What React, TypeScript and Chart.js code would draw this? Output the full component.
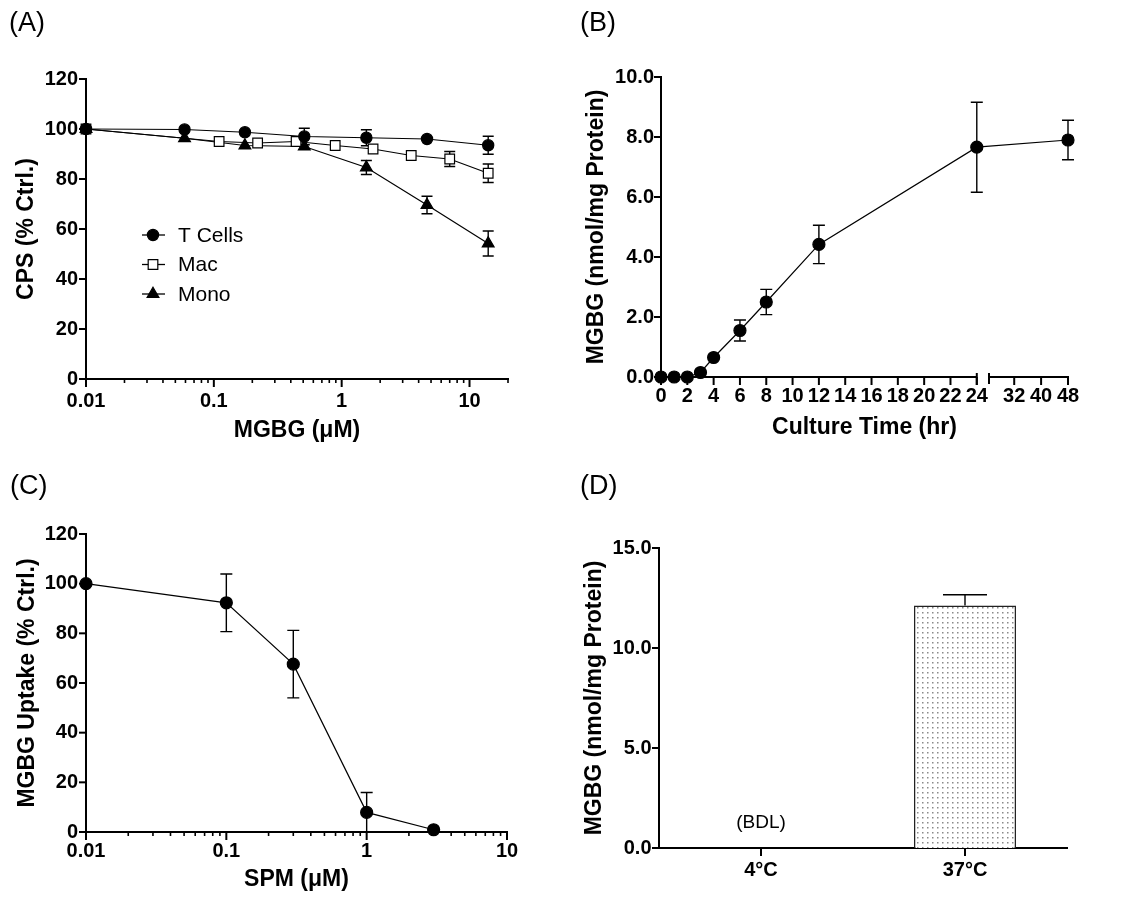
import React, { useEffect, useRef } from "react";
import { Chart, registerables } from "chart.js";
Chart.register(...registerables);

const FONT = "'Liberation Sans', Arial, Helvetica, sans-serif";
const INK = "#000";
const TICK_SIZE = 20;

// ---------- Panel A data ----------
const A_SERIES = ["T Cells", "Mac", "Mono"];
const A_TCELL_DOSE = [0.01, 0.059, 0.175, 0.51, 1.56, 4.65, 14];
const A_TCELL_CPS = [100, 99.8, 98.7, 97, 96.5, 96, 93.5];
const A_TCELL_ERR = [0, 0, 0, 3.3, 3.2, 0, 3.6];
const A_MAC_DOSE = [0.01, 0.11, 0.22, 0.44, 0.89, 1.76, 3.5, 7, 14];
const A_MAC_CPS = [100, 95, 94.4, 95, 93.4, 92, 89.4, 88, 82.3];
const A_MAC_ERR = [0, 0, 0, 0, 0, 0, 0, 3, 3.7];
const A_MONO_DOSE = [0.01, 0.059, 0.175, 0.51, 1.56, 4.65, 14];
const A_MONO_CPS = [100, 96.3, 93.4, 93, 84.6, 69.6, 54.2];
const A_MONO_ERR = [0, 0, 0, 0, 2.8, 3.5, 5];
const A_X_TICKS = [0.01, 0.1, 1, 10];
const A_X_MAX = 20;
const A_Y_TICKS = [0, 20, 40, 60, 80, 100, 120];

// ---------- Panel B data ----------
const B_TIME = [0, 1, 2, 3, 4, 6, 8, 12, 24, 48];
const B_MGBG = [0, 0, 0, 0.15, 0.65, 1.55, 2.5, 4.42, 7.66, 7.9];
const B_SEM = [0, 0, 0, 0, 0, 0.35, 0.42, 0.64, 1.5, 0.66];
const B_X_TICKS = [0, 2, 4, 6, 8, 10, 12, 14, 16, 18, 20, 22, 24, 32, 40, 48];
const B_Y_TICKS = [0, 2, 4, 6, 8, 10];
// broken axis: hours after the break are compressed
const B_BREAK = 24;
const B_SEG2_ORIGIN = 24.8;
const B_SEG2_RATE = 0.2555;
const B_SEG2_FROM = 24.5;
const bx = (t: number) => (t <= B_BREAK ? t : B_SEG2_ORIGIN + (t - B_BREAK) * B_SEG2_RATE);

// ---------- Panel C data ----------
const C_SPM = [0.01, 0.1, 0.3, 1, 3];
const C_UPTAKE = [100, 92.3, 67.6, 7.9, 0.9];
const C_SEM = [0, 11.6, 13.6, 8, 0];
const C_X_TICKS = [0.01, 0.1, 1, 10];
const C_Y_TICKS = [0, 20, 40, 60, 80, 100, 120];

// ---------- Panel D data ----------
const D_TEMPS = ["4°C", "37°C"];
const D_MGBG: (number | null)[] = [null, 12.13];
const D_SEM = [0, 0.53];
const D_NOTES = ["(BDL)", ""];
const D_NOTE_Y = 1.27;
const D_Y_TICKS = [0, 5, 10, 15];

// ---------- helpers ----------
const common = {
  responsive: false,
  maintainAspectRatio: false,
  animation: false as const,
  events: [] as any[],
  plugins: { legend: { display: false }, tooltip: { enabled: false } },
};

function logTicks(majors: number[], max: number) {
  const out: { value: number; major: boolean }[] = [];
  majors.forEach((m) => {
    if (m <= max) out.push({ value: m, major: true });
    for (let k = 2; k <= 9; k++) {
      const v = m * k;
      if (v <= max * 1.0001) out.push({ value: v, major: false });
    }
  });
  return out.sort((a, b) => a.value - b.value);
}

function titleOpt(text: string, size: number, pad: any) {
  return { display: true, text, color: INK, font: { family: FONT, size, weight: "bold" as const }, padding: pad };
}

function yAxis(ticks: number[], title: string, width: number, labelPad: number, titlePad: number, fmt: (v: number) => string, size = TICK_SIZE) {
  return {
    type: "linear" as const,
    min: ticks[0],
    max: ticks[ticks.length - 1],
    afterBuildTicks: (s: any) => {
      s.ticks = ticks.map((v) => ({ value: v }));
    },
    ticks: { autoSkip: false, color: INK, padding: labelPad, font: { family: FONT, size, weight: "bold" as const }, callback: (v: any) => fmt(Number(v)) },
    grid: { display: false, drawTicks: false },
    border: { display: true, color: INK, width: 2 },
    title: titleOpt(title, 23, { top: titlePad, bottom: 0 }),
    afterFit: (s: any) => {
      s.width = width;
    },
  };
}

function logXAxis(majors: number[], max: number, title: string, height: number, labelPad: number, titlePad: number) {
  return {
    type: "logarithmic" as const,
    min: majors[0],
    max,
    afterBuildTicks: (s: any) => {
      s.ticks = logTicks(majors, max);
    },
    ticks: {
      autoSkip: false,
      maxRotation: 0,
      minRotation: 0,
      color: INK,
      padding: labelPad,
      font: { family: FONT, size: TICK_SIZE, weight: "bold" as const },
      callback: (v: any) => (majors.indexOf(Number(v)) >= 0 ? String(v) : ""),
    },
    grid: { display: false, drawTicks: false },
    border: { display: true, color: INK, width: 2 },
    title: titleOpt(title, 23, { top: 0, bottom: titlePad }),
    afterFit: (s: any) => {
      s.height = height;
    },
  };
}

type TickSpec = { axis: "x" | "y"; len: (tick: any, i: number) => number };
function tickMarks(specs: TickSpec[]) {
  return {
    id: "tickMarks",
    beforeDatasetsDraw(chart: any) {
      const ctx = chart.ctx;
      ctx.save();
      ctx.strokeStyle = INK;
      specs.forEach((sp) => {
        const scale = chart.scales[sp.axis];
        scale.ticks.forEach((t: any, i: number) => {
          const len = sp.len(t, i);
          if (!len) return;
          const p = scale.getPixelForTick(i);
          ctx.lineWidth = len > 5 ? 2 : 1.6;
          ctx.beginPath();
          if (sp.axis === "x") {
            ctx.moveTo(p, scale.top);
            ctx.lineTo(p, scale.top + len);
          } else {
            ctx.moveTo(scale.right - len, p);
            ctx.lineTo(scale.right, p);
          }
          ctx.stroke();
        });
      });
      ctx.restore();
    },
  };
}

type ErrSpec = { dataset: number; errors: number[]; cap: number; upperOnly?: boolean };
function errorBars(specs: ErrSpec[], after = false) {
  const draw = (chart: any) => {
    const ctx = chart.ctx;
    const y = chart.scales.y;
    ctx.save();
    ctx.strokeStyle = INK;
    ctx.lineWidth = 1.4;
    specs.forEach((s) => {
      const meta = chart.getDatasetMeta(s.dataset);
      const data = chart.data.datasets[s.dataset].data;
      meta.data.forEach((el: any, i: number) => {
        const e = s.errors[i];
        const raw = data[i];
        if (!e || raw == null) return;
        const v = typeof raw === "number" ? raw : raw.y;
        const px = el.x;
        const top = y.getPixelForValue(v + e);
        const bot = y.getPixelForValue(s.upperOnly ? v : v - e);
        ctx.beginPath();
        ctx.moveTo(px, top);
        ctx.lineTo(px, bot);
        ctx.moveTo(px - s.cap / 2, top);
        ctx.lineTo(px + s.cap / 2, top);
        if (!s.upperOnly) {
          ctx.moveTo(px - s.cap / 2, bot);
          ctx.lineTo(px + s.cap / 2, bot);
        }
        ctx.stroke();
      });
    });
    ctx.restore();
  };
  return after ? { id: "errorBars", afterDatasetsDraw: draw } : { id: "errorBars", beforeDatasetsDraw: draw };
}

function drawMarker(ctx: CanvasRenderingContext2D, style: string, x: number, y: number, r: number, fill: string) {
  ctx.beginPath();
  if (style === "circle") {
    ctx.arc(x, y, r, 0, Math.PI * 2);
  } else if (style === "rect") {
    const s = r * Math.SQRT1_2;
    ctx.rect(x - s, y - s, 2 * s, 2 * s);
  } else {
    let rad = 0;
    ctx.moveTo(x + Math.sin(rad) * r, y - Math.cos(rad) * r);
    rad += (2 * Math.PI) / 3;
    ctx.lineTo(x + Math.sin(rad) * r, y - Math.cos(rad) * r);
    rad += (2 * Math.PI) / 3;
    ctx.lineTo(x + Math.sin(rad) * r, y - Math.cos(rad) * r);
    ctx.closePath();
  }
  ctx.fillStyle = fill;
  ctx.fill();
  ctx.lineWidth = 1.2;
  ctx.strokeStyle = INK;
  ctx.stroke();
}

const aLegend = {
  id: "aLegend",
  afterDatasetsDraw(chart: any) {
    const { ctx, chartArea } = chart;
    chart.data.datasets.forEach((ds: any, i: number) => {
      const cy = chartArea.top + 156 + i * 29.5;
      const cx = chartArea.left + 67;
      ctx.save();
      ctx.strokeStyle = INK;
      ctx.lineWidth = 1.3;
      ctx.beginPath();
      ctx.moveTo(cx - 11, cy);
      ctx.lineTo(cx + 12, cy);
      ctx.stroke();
      drawMarker(ctx, ds.pointStyle, cx, cy, ds.pointRadius, ds.pointBackgroundColor);
      ctx.fillStyle = INK;
      ctx.font = `21px ${FONT}`;
      ctx.textBaseline = "middle";
      ctx.textAlign = "left";
      ctx.fillText(ds.label, chartArea.left + 92, cy + 1);
      ctx.restore();
    });
  },
};

const lineBase = {
  borderColor: INK,
  borderWidth: 1.2,
  pointBorderColor: INK,
  pointBorderWidth: 1.2,
  tension: 0,
  clip: false as any,
};
const pts = (xs: number[], ys: number[]) => xs.map((x, i) => ({ x, y: ys[i] }));

function makeA(): any {
  return {
    type: "line",
    data: {
      datasets: [
        { ...lineBase, label: A_SERIES[0], data: pts(A_TCELL_DOSE, A_TCELL_CPS), pointStyle: "circle", pointRadius: 5.6, pointBackgroundColor: INK },
        { ...lineBase, label: A_SERIES[1], data: pts(A_MAC_DOSE, A_MAC_CPS), pointStyle: "rect", pointRadius: 6.8, pointBackgroundColor: "#fff" },
        { ...lineBase, label: A_SERIES[2], data: pts(A_MONO_DOSE, A_MONO_CPS), pointStyle: "triangle", pointRadius: 6.8, pointBackgroundColor: INK },
      ],
    },
    options: {
      ...common,
      layout: { padding: { top: 79, right: 52, left: 0, bottom: 0 } },
      scales: {
        x: logXAxis(A_X_TICKS, A_X_MAX, "MGBG (μM)", 66, 10, 0.2),
        y: yAxis(A_Y_TICKS, "CPS (% Ctrl.)", 86, 8, 13.2, (v) => String(v)),
      },
    },
    plugins: [
      tickMarks([
        { axis: "x", len: (t) => (t.major ? 8 : 4) },
        { axis: "y", len: () => 7 },
      ]),
      errorBars([
        { dataset: 0, errors: A_TCELL_ERR, cap: 11 },
        { dataset: 1, errors: A_MAC_ERR, cap: 11 },
        { dataset: 2, errors: A_MONO_ERR, cap: 11 },
      ]),
      aLegend,
    ],
  };
}

const bBrokenAxis = {
  id: "bBrokenAxis",
  beforeDatasetsDraw(chart: any) {
    const { ctx } = chart;
    const x = chart.scales.x;
    const y0 = x.top;
    const p0 = x.getPixelForValue(0) - 1;
    const p1 = x.getPixelForValue(bx(B_BREAK));
    const p2 = x.getPixelForValue(bx(B_SEG2_FROM));
    const p3 = x.getPixelForValue(bx(B_X_TICKS[B_X_TICKS.length - 1]));
    ctx.save();
    ctx.strokeStyle = INK;
    ctx.lineWidth = 2;
    ctx.beginPath();
    ctx.moveTo(p0, y0);
    ctx.lineTo(p1, y0);
    ctx.moveTo(p2, y0);
    ctx.lineTo(p3 + 1, y0);
    ctx.moveTo(p1, y0 - 4);
    ctx.lineTo(p1, y0 + 8);
    ctx.moveTo(p2, y0 - 4);
    ctx.lineTo(p2, y0 + 7);
    ctx.stroke();
    ctx.restore();
  },
};

function makeB(): any {
  return {
    type: "line",
    data: {
      datasets: [
        {
          ...lineBase,
          label: "MGBG",
          data: B_TIME.map((t, i) => ({ x: bx(t), y: B_MGBG[i] })),
          pointStyle: "circle",
          pointRadius: 6,
          pointBackgroundColor: INK,
        },
      ],
    },
    options: {
      ...common,
      layout: { padding: { top: 77, right: 71, left: 0, bottom: 0 } },
      scales: {
        x: {
          type: "linear",
          min: 0,
          max: bx(B_X_TICKS[B_X_TICKS.length - 1]),
          bounds: "data",
          afterBuildTicks: (s: any) => {
            s.ticks = B_X_TICKS.map((t) => ({ value: bx(t) }));
          },
          ticks: {
            autoSkip: false,
            maxRotation: 0,
            minRotation: 0,
            color: INK,
            padding: 7,
            font: { family: FONT, size: TICK_SIZE, weight: "bold" },
            callback: (_v: any, i: number) => String(B_X_TICKS[i]),
          },
          grid: { display: false, drawTicks: false },
          border: { display: false },
          title: titleOpt("Culture Time (hr)", 23, { top: 0, bottom: 3.2 }),
          afterFit: (s: any) => {
            s.height = 68;
          },
        },
        y: yAxis(B_Y_TICKS, "MGBG (nmol/mg Protein)", 101, 7, 22.9, (v) => v.toFixed(1)),
      },
    },
    plugins: [
      bBrokenAxis,
      tickMarks([
        { axis: "x", len: () => 8 },
        { axis: "y", len: () => 7 },
      ]),
      errorBars([{ dataset: 0, errors: B_SEM, cap: 12 }]),
    ],
  };
}

function makeC(): any {
  return {
    type: "line",
    data: {
      datasets: [
        { ...lineBase, label: "Uptake", data: pts(C_SPM, C_UPTAKE), pointStyle: "circle", pointRadius: 6, pointBackgroundColor: INK },
      ],
    },
    options: {
      ...common,
      layout: { padding: { top: 89, right: 53, left: 0, bottom: 0 } },
      scales: {
        x: logXAxis(C_X_TICKS, C_X_TICKS[C_X_TICKS.length - 1], "SPM (μM)", 66, 7, 4.2),
        y: yAxis(C_Y_TICKS, "MGBG Uptake (% Ctrl.)", 86, 8, 13.7, (v) => String(v)),
      },
    },
    plugins: [
      tickMarks([
        { axis: "x", len: (t) => (t.major ? 8 : 4) },
        { axis: "y", len: () => 7 },
      ]),
      errorBars([{ dataset: 0, errors: C_SEM, cap: 12 }]),
    ],
  };
}

function makePattern(): CanvasPattern | string {
  const c = document.createElement("canvas");
  c.width = 5;
  c.height = 5;
  const g = c.getContext("2d");
  if (!g) return "#eee";
  g.fillStyle = "#fff";
  g.fillRect(0, 0, 5, 5);
  g.fillStyle = "#8a8a8a";
  g.fillRect(2, 2, 1.5, 1.5);
  return g.createPattern(c, "repeat") || "#eee";
}

const dNotes = {
  id: "dNotes",
  afterDatasetsDraw(chart: any) {
    const { ctx } = chart;
    const x = chart.scales.x;
    const y = chart.scales.y;
    ctx.save();
    ctx.fillStyle = INK;
    ctx.font = `19px ${FONT}`;
    ctx.textAlign = "center";
    ctx.textBaseline = "middle";
    D_NOTES.forEach((n, i) => {
      if (n) ctx.fillText(n, x.getPixelForValue(i), y.getPixelForValue(D_NOTE_Y));
    });
    ctx.restore();
  },
};

function makeD(): any {
  return {
    type: "bar",
    data: {
      labels: D_TEMPS,
      datasets: [
        {
          label: "MGBG",
          data: D_MGBG,
          backgroundColor: makePattern(),
          borderColor: "#222",
          borderWidth: 1.5,
          categoryPercentage: 1,
          barPercentage: 0.5,
        },
      ],
    },
    options: {
      ...common,
      layout: { padding: { top: 103, right: 72, left: 0, bottom: 0 } },
      scales: {
        x: {
          type: "category",
          offset: true,
          ticks: { color: INK, padding: 10, maxRotation: 0, font: { family: FONT, size: 20, weight: "bold" } },
          grid: { display: false, drawTicks: false, offset: true },
          border: { display: true, color: INK, width: 2 },
          afterFit: (s: any) => {
            s.height = 50;
          },
        },
        y: yAxis(D_Y_TICKS, "MGBG (nmol/mg Protein)", 99, 7.5, 21.2, (v) => v.toFixed(1), 20),
      },
    },
    plugins: [
      tickMarks([
        { axis: "x", len: () => 8 },
        { axis: "y", len: () => 7 },
      ]),
      errorBars([{ dataset: 0, errors: D_SEM, cap: 44, upperOnly: true }], true),
      dNotes,
    ],
  };
}

function ChartBox(props: { left: number; top: number; width: number; height: number; make: () => any }) {
  const { left, top, width, height, make } = props;
  const ref = useRef<HTMLCanvasElement>(null);
  useEffect(() => {
    if (!ref.current) return;
    const chart = new Chart(ref.current, make());
    return () => chart.destroy();
  }, []);
  return <canvas ref={ref} width={width} height={height} style={{ position: "absolute", left, top, width, height }} />;
}

const letterStyle = (left: number, top: number): React.CSSProperties => ({
  position: "absolute",
  left,
  top,
  fontFamily: FONT,
  fontSize: 27,
  lineHeight: "27px",
  color: INK,
});

export default function App() {
  return (
    <div style={{ position: "absolute", left: 0, top: 0, width: 1139, height: 898, background: "#fff", overflow: "hidden" }}>
      <ChartBox left={0} top={0} width={560} height={445} make={makeA} />
      <ChartBox left={560} top={0} width={579} height={445} make={makeB} />
      <ChartBox left={0} top={445} width={560} height={453} make={makeC} />
      <ChartBox left={560} top={445} width={579} height={453} make={makeD} />
      <div style={letterStyle(9, 9)}>(A)</div>
      <div style={letterStyle(580, 9)}>(B)</div>
      <div style={letterStyle(10, 472)}>(C)</div>
      <div style={letterStyle(580, 472)}>(D)</div>
    </div>
  );
}
